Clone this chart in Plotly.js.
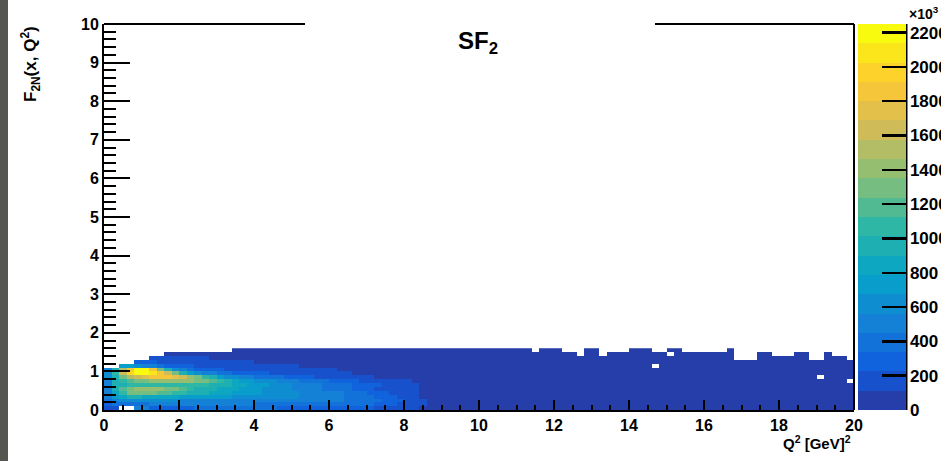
<!DOCTYPE html>
<html>
<head>
<meta charset="utf-8">
<script src="https://cdn.plot.ly/plotly-3.0.1.min.js"></script>
<style>html,body{margin:0;padding:0;background:#fff;}#chart{width:941px;height:461px;}</style>
</head>
<body>
<div id="chart"></div>
<script>
const _ = null;
// F2N(x,Q^2) histogram contents (x10^3), Q^2 bins of 0.2 from 0 to 20, F2 bins of 0.1 from 0
const f2_y00 = [200,150,_,_,450,450,300,300,310,320, 330,330,340,340,340,340,340,340,340,340, 340,340,340,330,330,330,320,320,310,300, 290,280,270,260,250,230,210,190,170,150, 130,115,100,90,85,80,80,80,80,80, 80,80,80,80,80,80,80,80,80,80, 80,80,80,80,80,80,80,80,80,80, 80,80,80,80,80,80,80,80,80,80, 80,80,80,80,80,80,80,80,80,80, 80,80,80,80,80,80,80,80,80,80];
const f2_y01 = [300,380,400,420,430,440,450,450,450,450, 450,450,450,450,450,450,450,450,450,450, 440,440,440,430,430,430,420,420,410,410, 400,390,380,370,360,340,320,290,260,220, 190,160,130,110,95,85,80,80,80,80, 80,80,80,80,80,80,80,80,80,80, 80,80,80,80,80,80,80,80,80,80, 80,80,80,80,80,80,80,80,80,80, 80,80,80,80,80,80,80,80,80,80, 80,80,80,80,80,80,80,80,80,80];
const f2_y02 = [400,550,600,620,620,610,600,590,580,570, 560,560,560,560,560,560,560,560,560,560, 550,550,540,540,530,520,510,500,490,480, 470,450,430,410,390,370,340,310,270,230, 200,160,130,110,95,85,80,80,80,80, 80,80,80,80,80,80,80,80,80,80, 80,80,80,80,80,80,80,80,80,80, 80,80,80,80,80,80,80,80,80,80, 80,80,80,80,80,80,80,80,80,80, 80,80,80,80,80,80,80,80,80,80];
const f2_y03 = [450,700,850,900,900,880,860,840,820,800, 780,760,740,720,700,690,680,670,660,650, 640,630,620,610,600,580,560,540,520,500, 480,460,440,410,380,350,310,270,230,190, 160,130,110,100,90,85,80,80,80,80, 80,80,80,80,80,80,80,80,80,80, 80,80,80,80,80,80,80,80,80,80, 80,80,80,80,80,80,80,80,80,80, 80,80,80,80,80,80,80,80,80,80, 80,80,80,80,80,80,80,80,80,80];
const f2_y04 = [500,850,1100,1250,1300,1300,1250,1200,1150,1100, 1050,1000,950,900,860,820,790,760,730,700, 680,660,640,620,600,580,560,540,520,500, 480,450,420,390,360,320,280,240,200,170, 140,120,105,95,90,85,80,80,80,80, 80,80,80,80,80,80,80,80,80,80, 80,80,80,80,80,80,80,80,80,80, 80,80,80,80,80,80,80,80,80,80, 80,80,80,80,80,80,80,80,80,80, 80,80,80,80,80,80,80,80,80,80];
const f2_y05 = [550,950,1200,1300,1350,1400,1400,1350,1300,1250, 1150,1050,1000,950,900,860,820,790,760,730, 700,670,640,610,580,550,520,490,460,430, 400,370,340,310,280,250,220,190,170,150, 130,115,105,95,90,85,80,80,80,80, 80,80,80,80,80,80,80,80,80,80, 80,80,80,80,80,80,80,80,80,80, 80,80,80,80,80,80,80,80,80,80, 80,80,80,80,80,80,80,80,80,80, 80,80,80,80,80,80,80,80,80,80];
const f2_y06 = [550,900,1000,1050,1050,1050,1050,1050,1050,1050, 1050,1050,1050,1050,1000,950,900,860,820,780, 740,700,660,620,590,560,530,500,470,440, 410,380,350,320,290,260,230,200,180,160, 140,125,110,100,95,90,85,80,80,80, 80,80,80,80,80,80,80,80,80,80, 80,80,80,80,80,80,80,80,80,80, 80,80,80,80,80,80,80,80,80,80, 80,80,80,80,80,80,80,80,80,80, 80,80,80,80,80,80,80,80,80,80];
const f2_y07 = [550,950,1100,1200,1250,1300,1350,1400,1450,1450, 1400,1350,1300,1250,1150,1050,950,850,780,720, 660,610,570,530,500,470,440,410,380,350, 320,290,260,240,220,200,180,160,145,130, 120,110,100,95,90,85,85,80,80,80, 80,80,80,80,80,80,80,80,80,80, 80,80,80,80,80,80,80,80,80,80, 80,80,80,80,80,80,80,80,80,80, 80,80,80,80,80,80,80,80,80,80, 80,80,80,80,80,80,80,80,80,_];
const f2_y08 = [600,1000,1300,1500,1650,1750,1850,1900,1850,1750, 1600,1450,1300,1100,900,750,650,580,520,480, 440,410,380,350,320,290,260,240,220,200, 180,165,150,140,130,120,110,105,100,95, 90,90,85,85,80,80,80,80,80,80, 80,80,80,80,80,80,80,80,80,80, 80,80,80,80,80,80,80,80,80,80, 80,80,80,80,80,80,80,80,80,80, 80,80,80,80,80,80,80,80,80,80, 80,80,80,80,80,_,80,80,80,80];
const f2_y09 = [600,1100,1600,2000,2250,2200,2100,1900,1600,1300, 1000,780,620,520,450,400,360,330,300,280, 260,240,220,200,185,170,160,150,140,130, 125,120,115,110,105,100,95,95,90,90, 90,85,85,85,80,80,80,80,80,80, 80,80,80,80,80,80,80,80,80,80, 80,80,80,80,80,80,80,80,80,80, 80,80,80,80,80,80,80,80,80,80, 80,80,80,80,80,80,80,80,80,80, 80,80,80,80,80,80,80,80,80,80];
const f2_y10 = [500,900,1500,1900,2200,2150,1800,1300,900,650, 480,390,330,290,260,240,220,210,200,190, 180,170,160,150,145,140,135,130,125,120, 115,110,105,100,100,95,95,90,90,90, 85,85,85,80,80,80,80,80,80,80, 80,80,80,80,80,80,80,80,80,80, 80,80,80,80,80,80,80,80,80,80, 80,80,80,80,80,80,80,80,80,80, 80,80,80,80,80,80,80,80,80,80, 80,80,80,80,80,80,80,80,80,80];
const f2_y11 = [_,_,750,700,620,560,450,380,320,280, 250,230,210,195,185,175,165,155,150,145, 140,135,130,125,120,115,110,105,100,100, 95,95,90,90,90,85,85,85,80,80, 80,80,80,80,80,80,80,80,80,80, 80,80,80,80,80,80,80,80,80,80, 80,80,80,80,80,80,80,80,80,80, 80,80,80,_,80,80,80,80,80,80, 80,80,80,80,80,80,80,80,80,80, 80,80,80,80,80,80,80,80,80,80];
const f2_y12 = [_,_,_,_,280,260,230,210,190,180, 170,160,150,145,140,135,130,125,120,115, 110,105,100,100,95,95,90,90,90,85, 85,85,85,80,80,80,80,80,80,80, 80,80,80,80,80,80,80,80,80,80, 80,80,80,80,80,80,80,80,80,80, 80,80,80,80,80,80,80,80,80,80, 80,80,80,80,80,80,80,80,80,80, 80,80,80,80,80,80,80,80,80,80, 80,80,80,80,80,80,80,80,80,80];
const f2_y13 = [_,_,_,_,_,_,160,150,140,135, 130,125,120,115,110,110,105,100,100,95, 95,90,90,90,85,85,85,85,80,80, 80,80,80,80,80,80,80,80,80,80, 80,80,80,80,80,80,80,80,80,80, 80,80,80,80,80,80,80,80,80,80, 80,80,80,80,80,80,80,80,80,80, 80,80,80,80,80,80,80,80,80,80, 80,80,80,80,_,_,_,80,80,80, 80,80,80,80,_,_,80,80,80,_];
const f2_y14 = [_,_,_,_,_,_,_,_,110,110, 110,105,105,100,100,95,95,90,90,90, 85,85,85,80,80,80,80,80,80,80, 80,80,80,80,80,80,80,80,80,80, 80,80,80,80,80,80,80,80,80,80, 80,80,80,80,80,80,80,80,80,80, 80,80,80,_,80,80,_,80,80,80, 80,80,80,80,80,_,80,80,80,80, 80,80,80,80,_,_,_,80,80,_, _,_,80,80,_,_,80,_,_,_];
const f2_y15 = [_,_,_,_,_,_,_,_,_,_, _,_,_,_,_,_,_,90,90,85, 85,85,80,80,80,80,80,80,80,80, 80,80,80,80,80,80,80,80,80,80, 80,80,80,80,80,80,80,80,80,80, 80,80,80,80,80,80,80,_,80,80, 80,_,_,_,80,80,_,_,_,_, 80,80,80,_,_,80,80,_,_,_, _,_,_,80,_,_,_,_,_,_, _,_,_,_,_,_,_,_,_,_];
const zRows = [f2_y00,f2_y01,f2_y02,f2_y03,f2_y04,f2_y05,f2_y06,f2_y07,f2_y08,f2_y09,f2_y10,f2_y11,f2_y12,f2_y13,f2_y14,f2_y15];
const zTickVals = [0,200,400,600,800,1000,1200,1400,1600,1800,2000,2200];

// ROOT kBird palette, 20 contour levels
const bStops = [0.0,0.125,0.25,0.375,0.5,0.625,0.75,0.875,1.0];
const bR = [0.2082,0.0592,0.0780,0.0232,0.1802,0.5301,0.8186,0.9956,0.9764];
const bG = [0.1664,0.3599,0.5041,0.6419,0.7178,0.7492,0.7328,0.7862,0.9832];
const bB = [0.5293,0.8684,0.8385,0.7914,0.6425,0.4662,0.3499,0.1968,0.0539];
function birdAt(f){
  f = Math.max(0, Math.min(1, f));
  let i = 0;
  while (i < bStops.length - 2 && f > bStops[i+1]) i++;
  const t = (f - bStops[i]) / (bStops[i+1] - bStops[i]);
  const c = a => Math.round(255 * (a[i] + t * (a[i+1] - a[i])));
  return 'rgb(' + c(bR) + ',' + c(bG) + ',' + c(bB) + ')';
}
const nLev = 20;
const cscale = [];
for (let i = 0; i < nLev; i++) {
  const col = birdAt((i + 0.99) / nLev);
  cscale.push([i / nLev, col]);
  cscale.push([(i + 1) / nLev, col]);
}

const fontB = {family: 'Liberation Sans, Arial, sans-serif', size: 16, color: 'black', weight: 'bold'};

const trace = {
  type: 'heatmap',
  z: zRows,
  x0: 0.1, dx: 0.2,
  y0: 0.05, dy: 0.1,
  zmin: 0, zmax: 2250,
  colorscale: cscale,
  hoverongaps: false,
  colorbar: {
    xref: 'container', x: 858/941, xanchor: 'left', xpad: 0,
    yref: 'paper', y: 0.5, yanchor: 'middle', ypad: 0,
    len: 1, lenmode: 'fraction',
    thickness: 48, thicknessmode: 'pixels',
    outlinewidth: 0,
    ticks: 'inside', ticklen: 24, tickwidth: 2.5, tickcolor: 'black',
    tickvals: zTickVals, ticktext: zTickVals.map(String),
    tickfont: {family: fontB.family, size: 17, color: 'black', weight: 'bold'}
  }
};

const W = 750, H = 386;
const layout = {
  width: 941, height: 461,
  margin: {l: 104, r: 87, t: 24, b: 51, pad: 0},
  paper_bgcolor: 'white', plot_bgcolor: 'white',
  showlegend: false,
  xaxis: {
    range: [0, 20], tick0: 0, dtick: 2, ticks: 'inside', ticklen: 10, tickwidth: 2, tickcolor: 'black',
    showline: true, linewidth: 2, linecolor: 'black', showgrid: false, zeroline: false,
    tickfont: fontB, layer: 'above traces',
    minor: {dtick: 0.5, ticks: 'inside', ticklen: 5, tickwidth: 2, tickcolor: 'black', showgrid: false}
  },
  yaxis: {
    range: [0, 10], tick0: 0, dtick: 1, ticks: 'inside', ticklen: 26, tickwidth: 2, tickcolor: 'black',
    showline: true, linewidth: 2, linecolor: 'black', showgrid: false, zeroline: false,
    tickfont: fontB, layer: 'above traces',
    minor: {dtick: 0.2, ticks: 'inside', ticklen: 12, tickwidth: 2, tickcolor: 'black', showgrid: false}
  },
  shapes: [
    {type: 'rect', xref: 'paper', yref: 'paper', x0: -104/W, x1: -96/W, y0: -51/H, y1: 1 + 24/H,
     fillcolor: '#55564f', line: {width: 0}},
    {type: 'line', xref: 'paper', yref: 'paper', x0: 0, x1: (305-104)/W, y0: 1, y1: 1, line: {color: 'black', width: 2}},
    {type: 'line', xref: 'paper', yref: 'paper', x0: (655-104)/W, x1: 1, y0: 1, y1: 1, line: {color: 'black', width: 2}},
    {type: 'line', xref: 'paper', yref: 'paper', x0: 1, x1: 1, y0: 0, y1: 1, line: {color: 'black', width: 2}},
    {type: 'line', xref: 'paper', yref: 'paper', x0: (906.5-104)/W, x1: (906.5-104)/W, y0: 0, y1: 1, line: {color: 'black', width: 2}}
  ],
  annotations: [
    {xref: 'paper', yref: 'paper', x: (478-104)/W, y: 1 - (43-24)/H, xanchor: 'center', yanchor: 'middle',
     text: 'SF<sub>2</sub>', showarrow: false,
     font: {family: fontB.family, size: 24, color: 'black', weight: 'bold'}},
    {xref: 'paper', yref: 'paper', x: (30-104)/W, y: 1 - (64-24)/H, xanchor: 'center', yanchor: 'middle',
     text: 'F<sub>2N</sub>(x, Q<sup>2</sup>)', textangle: -90, showarrow: false,
     font: {family: fontB.family, size: 17, color: 'black', weight: 'bold'}},
    {xref: 'paper', yref: 'paper', x: (853-104)/W, y: -(442-410)/H, xanchor: 'right', yanchor: 'middle',
     text: 'Q<sup>2</sup> [GeV]<sup>2</sup>', showarrow: false,
     font: {family: fontB.family, size: 15, color: 'black', weight: 'bold'}},
    {xref: 'paper', yref: 'paper', x: (907-104)/W, y: 1 + (24-13)/H, xanchor: 'left', yanchor: 'middle',
     text: '×10<sup>3</sup>', showarrow: false,
     font: {family: fontB.family, size: 14, color: 'black', weight: 'bold'}}
  ]
};

Plotly.newPlot('chart', [trace], layout, {displayModeBar: false, staticPlot: true});
</script>
</body>
</html>
